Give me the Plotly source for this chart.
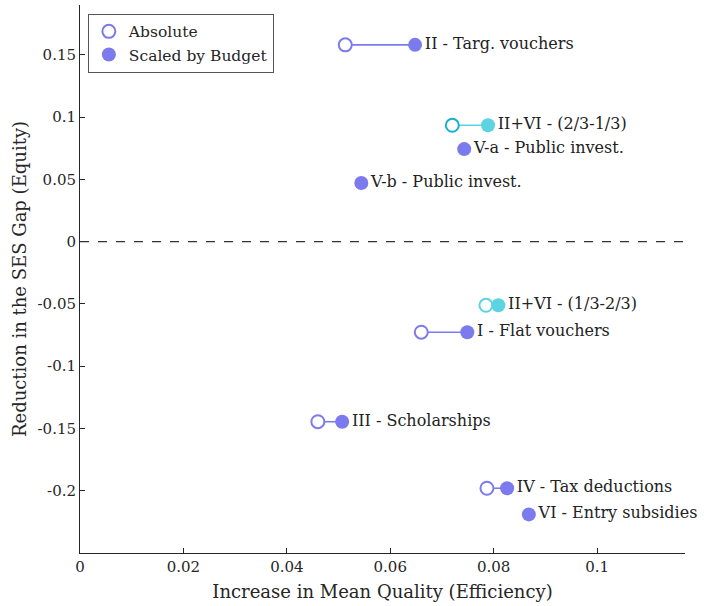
import plotly.graph_objects as go

# Data
policies = ["II - Targ. vouchers", "II+VI - (2/3-1/3)", "V-a - Public invest.",
            "V-b - Public invest.", "II+VI - (1/3-2/3)", "I - Flat vouchers",
            "III - Scholarships", "IV - Tax deductions", "VI - Entry subsidies"]
abs_eff = [0.0513, 0.0720, None, None, 0.0785, 0.0660, 0.0460, 0.0787, None]
scaled_eff = [0.0648, 0.0789, 0.0743, 0.0544, 0.0809, 0.0749, 0.0507, 0.0826, 0.0868]
equity = [0.158, 0.0934, 0.0743, 0.0471, -0.0511, -0.0727, -0.1446, -0.198, -0.219]
is_mix = [False, True, False, False, True, False, False, False, False]

PURPLE = "#7B7BEE"
CYAN = "#5BD3E0"
CYAN_DARK = "#1AAFCB"
FONT = "DejaVu Serif, serif"

fig = go.Figure()

# connecting lines
for i in range(len(policies)):
    if abs_eff[i] is not None:
        col = CYAN if is_mix[i] else PURPLE
        fig.add_trace(go.Scatter(x=[abs_eff[i], scaled_eff[i]], y=[equity[i], equity[i]],
                                 mode="lines", line=dict(color=col, width=1.6),
                                 showlegend=False, hoverinfo="skip"))

# absolute (hollow)
abs_x = [abs_eff[i] for i in range(len(policies)) if abs_eff[i] is not None]
abs_y = [equity[i] for i in range(len(policies)) if abs_eff[i] is not None]
abs_c = []
for i in range(len(policies)):
    if abs_eff[i] is not None:
        if is_mix[i]:
            abs_c.append(CYAN_DARK if equity[i] > 0 else CYAN)
        else:
            abs_c.append(PURPLE)
fig.add_trace(go.Scatter(x=abs_x, y=abs_y, mode="markers", name="Absolute",
                         marker=dict(size=13, color="white", line=dict(color=abs_c, width=2)),
                         showlegend=False))

# scaled (filled)
sc_c = [CYAN if m else PURPLE for m in is_mix]
fig.add_trace(go.Scatter(x=scaled_eff, y=equity, mode="markers+text", name="Scaled by Budget",
                         marker=dict(size=14, color=sc_c, line=dict(width=0)),
                         text=policies, textposition="middle right", cliponaxis=False,
                         textfont=dict(family=FONT, size=16, color="#222222"),
                         showlegend=False))

# legend dummies
fig.add_trace(go.Scatter(x=[None], y=[None], mode="markers", name="Absolute",
                         marker=dict(size=13, color="white", line=dict(color=PURPLE, width=2))))
fig.add_trace(go.Scatter(x=[None], y=[None], mode="markers", name="Scaled by Budget",
                         marker=dict(size=14, color=PURPLE)))

fig.add_shape(type="line", xref="paper", x0=0, x1=1, yref="y", y0=0, y1=0,
              line=dict(color="#333333", width=1.2, dash="dash"))

fig.update_layout(
    width=704, height=606,
    margin=dict(l=80, r=19, t=5, b=53),
    paper_bgcolor="white", plot_bgcolor="white",
    font=dict(family=FONT, size=15, color="#262626"),
    legend=dict(x=0.013, y=0.984, xanchor="left", yanchor="top",
                bordercolor="#555555", borderwidth=1, bgcolor="white",
                font=dict(size=15.5), itemwidth=30, tracegroupgap=0),
    xaxis=dict(range=[0, 0.117], tickvals=[0, 0.02, 0.04, 0.06, 0.08, 0.1],
               ticktext=["0", "0.02", "0.04", "0.06", "0.08", "0.1"],
               showgrid=False, zeroline=False, showline=True, linecolor="#262626",
               linewidth=1, ticks="inside", ticklen=5, tickcolor="#262626", automargin=False,
               title=dict(text="Increase in Mean Quality (Efficiency)", font=dict(size=18), standoff=10)),
    yaxis=dict(range=[-0.25, 0.19], tickvals=[-0.2, -0.15, -0.1, -0.05, 0, 0.05, 0.1, 0.15],
               ticktext=["-0.2", "-0.15", "-0.1", "-0.05", "0", "0.05", "0.1", "0.15"],
               showgrid=False, zeroline=False, showline=True, linecolor="#262626",
               linewidth=1, ticks="inside", ticklen=5, tickcolor="#262626", automargin=False,
               title=dict(text="Reduction in the SES Gap (Equity)", font=dict(size=18), standoff=6)),
)

fig.write_html("out.html", config={"displayModeBar": False},
               post_script="document.body.style.margin='0px';")
